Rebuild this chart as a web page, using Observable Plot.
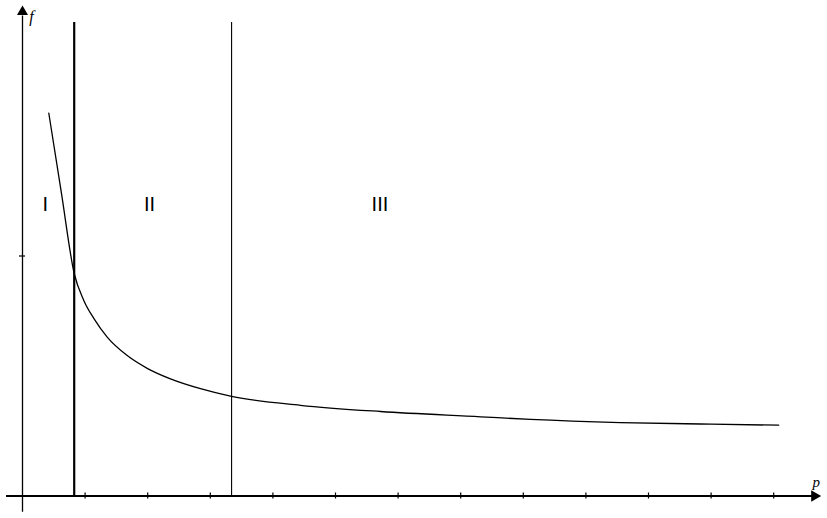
<!DOCTYPE html>
<html>
<head>
<meta charset="utf-8">
<script src="https://cdn.jsdelivr.net/npm/d3@7"></script>
<script src="https://cdn.jsdelivr.net/npm/@observablehq/plot@0.6"></script>
<style>
  html, body { margin: 0; padding: 0; background: #fff; }
  #chart svg { display: block; }
</style>
</head>
<body>
<div id="chart"></div>
<script>
// ---- data ----
const curveP = [0.42, 0.62, 0.826, 0.979, 1.139, 1.353, 1.673, 1.992, 2.364, 2.843, 3.339, 4.44, 5.72, 7.32, 8.115, 9.55, 10.83, 12.08];
const curveF = [1.595, 1.265, 0.927, 0.815, 0.74, 0.662, 0.585, 0.532, 0.488, 0.447, 0.415, 0.378, 0.352, 0.330, 0.319, 0.306, 0.300, 0.295];
const boundaries = [0.826, 3.34];
const boundaryWidths = [2.2, 1.1];
const regionLabels = ["I", "II", "III"];
const regionLabelP = [0.363, 2.03, 5.71];
const regionLabelF = 1.2125;
const xTicks = [1, 2, 3, 4, 5, 6, 7, 8, 9, 10, 11, 12];
const yTicks = [1];
const xAxisLabel = "p";
const yAxisLabel = "f";

const curve = curveP.map((p, i) => ({p, f: curveF[i]}));
const bounds = boundaries.map((p, i) => ({p, w: boundaryWidths[i]}));
const labels = regionLabels.map((t, i) => ({t, p: regionLabelP[i], f: regionLabelF}));

const chart = Plot.plot({
  width: 827,
  height: 518,
  margin: 0,
  style: {background: "#fff"},
  x: {domain: [0, 12], range: [22, 773.2], axis: null},
  y: {domain: [0, 1], range: [495.5, 255.5], axis: null},
  marks: [
    // axes
    Plot.ruleY([0], {x1: -0.2556, x2: 12.7, stroke: "black", strokeWidth: 2.2}),
    Plot.ruleX([0], {y1: -0.0675, y2: 2.0, stroke: "black", strokeWidth: 1.3}),
    Plot.dot([{x: 12.652, y: 0}], {x: "x", y: "y", symbol: "triangle", rotate: 90, r: 4.3, fill: "black", stroke: null}),
    Plot.dot([{x: 0, y: 2.017}], {x: "x", y: "y", symbol: "triangle", r: 4.1, fill: "black", stroke: null}),
    // ticks
    Plot.ruleX(xTicks, {y1: -0.0125, y2: 0.0125, stroke: "black", strokeWidth: 1.2}),
    Plot.ruleY(yTicks, {x1: -0.048, x2: 0.048, stroke: "black", strokeWidth: 1.2}),
    // region boundaries
    Plot.ruleX(bounds, {x: "p", y1: 0, y2: 1.973, stroke: "black", strokeWidth: d => d.w}),
    // curve
    Plot.line(curve, {x: "p", y: "f", curve: "monotone-x", stroke: "black", strokeWidth: 1.3}),
    // region labels
    Plot.text(labels, {x: "p", y: "f", text: "t", fontFamily: "Liberation Sans", fontSize: 20, fill: "black"}),
    // axis labels
    Plot.text([yAxisLabel], {x: 0.144, y: 1.998, text: d => d, fontFamily: "Liberation Serif", fontStyle: "italic", fontSize: 16, fill: "black"}),
    Plot.text([xAxisLabel], {x: 12.68, y: 0.056, text: d => d, fontFamily: "Liberation Serif", fontStyle: "italic", fontSize: 15, fill: "black"})
  ]
});
document.getElementById("chart").appendChild(chart);
</script>
</body>
</html>
